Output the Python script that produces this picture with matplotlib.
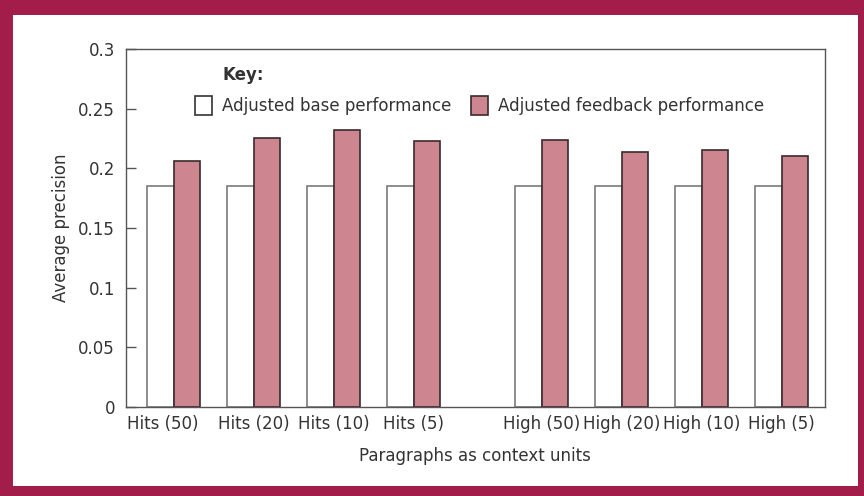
import matplotlib.pyplot as plt
import matplotlib.transforms as mtransforms
from matplotlib.patches import Patch, Rectangle
import numpy as np

plt.rcParams['font.family'] = ['Liberation Sans Narrow', 'DejaVu Sans']

labels = ['Hits (50)', 'Hits (20)', 'Hits (10)', 'Hits (5)',
          'High (50)', 'High (20)', 'High (10)', 'High (5)']
group_pos = [0, 1, 2, 3, 4.6, 5.6, 6.6, 7.6]
base_perf = [0.185, 0.185, 0.185, 0.185, 0.185, 0.185, 0.185, 0.185]
feedback_perf = [0.206, 0.225, 0.232, 0.223, 0.224, 0.214, 0.215, 0.210]

border = '#A21D4A'
pink = '#CD8690'
axis_grey = '#555555'
text_col = '#333333'

fig = plt.figure(figsize=(8.64, 4.96), dpi=100, facecolor=border)
# white panel inside the maroon frame
fig.patches.append(Rectangle((13 / 864, 10 / 496), 845 / 864, 471 / 496,
                             transform=fig.transFigure, facecolor='white',
                             edgecolor='none', zorder=-1))

ax = fig.add_axes([126 / 864, 89 / 496, 698.6 / 864, 358 / 496])
ax.set_zorder(1)
ax.set_facecolor('white')

x = np.array(group_pos)
w = 1 / 3
ax.bar(x - w / 2, base_perf, w, color='white', edgecolor='#7a7a7a', linewidth=1.2, zorder=2)
ax.bar(x + w / 2, feedback_perf, w, color=pink, edgecolor='#3a2a2e', linewidth=1.2, zorder=2)

ax.set_xlim(-0.595, 8.1375)
ax.set_ylim(0, 0.3)
ax.set_yticks([0, 0.05, 0.1, 0.15, 0.2, 0.25, 0.3])
ax.set_yticklabels(['0', '0.05', '0.1', '0.15', '0.2', '0.25', '0.3'])
ax.tick_params(axis='y', direction='in', length=7, width=1, color=axis_grey,
               labelsize=12, labelcolor=text_col, pad=8)
ax.set_xticks(x)
ax.set_xticklabels(labels)
ax.tick_params(axis='x', length=0, labelsize=12, labelcolor=text_col, pad=6)

# first label sits a bit left of its group
first = ax.get_xticklabels()[0]
first.set_transform(first.get_transform() + mtransforms.ScaledTranslation(-11 / 100, 0, fig.dpi_scale_trans))

for s in ax.spines.values():
    s.set_color(axis_grey)
    s.set_linewidth(1)

ax.set_ylabel('Average precision', fontsize=12, color=text_col, labelpad=6)
ax.set_xlabel('Paragraphs as context units', fontsize=12, color=text_col, labelpad=10)

handles = [Patch(facecolor='white', edgecolor='#333333', linewidth=1.2),
           Patch(facecolor=pink, edgecolor='#3a2a2e', linewidth=1.2)]
leg = ax.legend(handles, ['Adjusted base performance', 'Adjusted feedback performance'],
                ncol=2, frameon=False, fontsize=12, loc='center left',
                bbox_to_anchor=((195 - 126) / 698.6, (407 - 105.5) / 358),
                borderpad=0, borderaxespad=0, handlelength=1.0, handleheight=1.35,
                handletextpad=0.6, columnspacing=1.2)
for t in leg.get_texts():
    t.set_color(text_col)
ax.text((222 - 126) / 698.6, (407 - 75) / 358, 'Key:', transform=ax.transAxes,
        fontsize=12, fontweight='bold', color=text_col, va='center', ha='left')

fig.savefig('out.png', dpi=100, facecolor=border)
